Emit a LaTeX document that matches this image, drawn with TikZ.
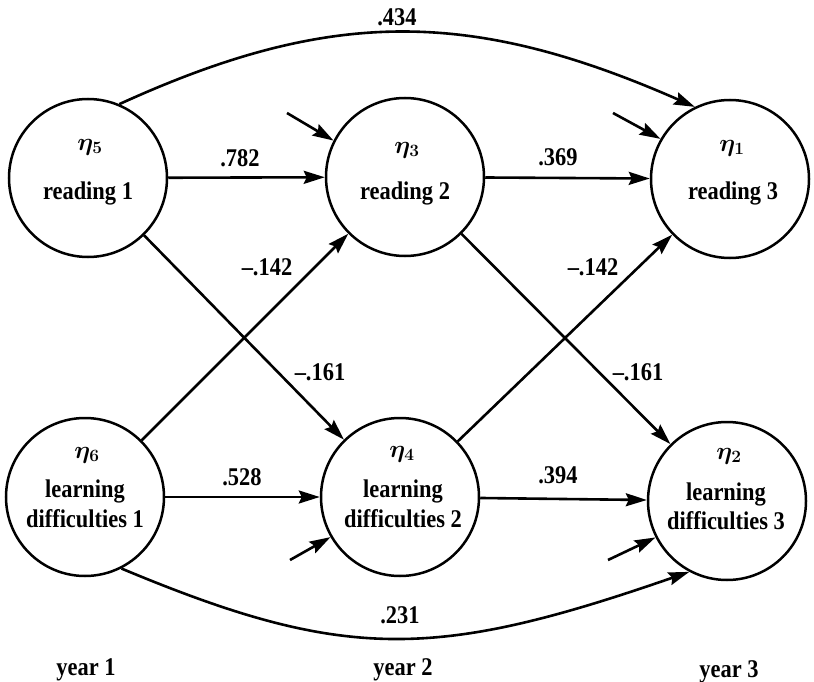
\documentclass[tikz,border=0pt]{standalone}
\usepackage{fontspec}
\setmainfont{Liberation Serif}
\usetikzlibrary{arrows.meta}
\begin{document}
\begin{tikzpicture}[x=1pt,y=-1pt,
  latent/.style={circle,draw,line width=2.5pt,minimum size=158pt,inner sep=0pt},
  link/.style={line width=2.6pt,-{Stealth[length=21pt,width=13pt,inset=3pt]}},
  lbl/.style={font=\fontsize{25.5}{28}\selectfont\bfseries,xscale=0.88,inner sep=0pt,anchor=base},
  eta/.style={font=\fontsize{24}{26}\selectfont\boldmath,inner sep=0pt}]
\useasboundingbox (0,0) rectangle (814,682);

% latent variables
\node[latent] (r1)  at (88,178)  {};
\node[latent] (r2)  at (405,177) {};
\node[latent] (r3)  at (730,179) {};
\node[latent] (ld1) at (85,497)  {};
\node[latent] (ld2) at (400,497) {};
\node[latent] (ld3) at (727,501) {};

% names inside the circles
\node[eta] (e5) at (90,147)  {$\eta_5$};
\node[lbl] (t5) at (88,200)  {reading 1};
\node[eta] (e3) at (407,150) {$\eta_3$};
\node[lbl] (t3) at (405,200) {reading 2};
\node[eta] (e1) at (732,148) {$\eta_1$};
\node[lbl] (t1) at (733,200) {reading 3};

\node[eta] (e6) at (87,455)  {$\eta_6$};
\node[lbl] (t6a) at (85,497) {learning};
\node[lbl] (t6b) at (85,527) {difficulties 1};
\node[eta] (e4) at (402,454) {$\eta_4$};
\node[lbl] (t4a) at (403,497) {learning};
\node[lbl] (t4b) at (403,527) {difficulties 2};
\node[eta] (e2) at (729,456) {$\eta_2$};
\node[lbl] (t2a) at (726,500) {learning};
\node[lbl] (t2b) at (726,529) {difficulties 3};

% disturbance terms
\coordinate (d3) at (287,113);
\coordinate (d1) at (613,113);
\coordinate (d4) at (290,560);
\coordinate (d2) at (608,560);
\draw[link] (d3) -- (r2.153);
\draw[link] (d1) -- (r3.150);
\draw[link] (d4) -- (ld2.210);
\draw[link] (d2) -- (ld3.207);

% stability paths
\draw[link] (r1) -- (r2);
\draw[link] (r2) -- (r3);
\draw[link] (ld1) -- (ld2);
\draw[link] (ld2) -- (ld3);

% cross-lagged paths
\draw[link] (r1) -- (ld2);
\draw[link] (ld1) -- (r2);
\draw[link] (r2) -- (ld3);
\draw[link] (ld2) -- (r3);

% year 1 to year 3 paths
\draw[link] (r1.67) .. controls (330,8) and (470,8) .. (r3.116);
\draw[link] (ld1.297) .. controls (345,662) and (435,660) .. (ld3.242);

% coefficients
\node[lbl,anchor=center] (c434) at (397,17)  {.434};
\node[lbl,anchor=center] (c782) at (240,158) {.782};
\node[lbl,anchor=center] (c369) at (558,157) {.369};
\node[lbl,anchor=center] (c142a) at (267,267) {\textendash.142};
\node[lbl,anchor=center] (c142b) at (593,267) {\textendash.142};
\node[lbl,anchor=center] (c161a) at (320,372) {\textendash.161};
\node[lbl,anchor=center] (c161b) at (638,372) {\textendash.161};
\node[lbl,anchor=center] (c528) at (242,477) {.528};
\node[lbl,anchor=center] (c394) at (558,475) {.394};
\node[lbl,anchor=center] (c231) at (400,615) {.231};

% time points
\node[lbl] (y1) at (86,675)  {year 1};
\node[lbl] (y2) at (403,675) {year 2};
\node[lbl] (y3) at (729,677) {year 3};
\end{tikzpicture}
\end{document}
